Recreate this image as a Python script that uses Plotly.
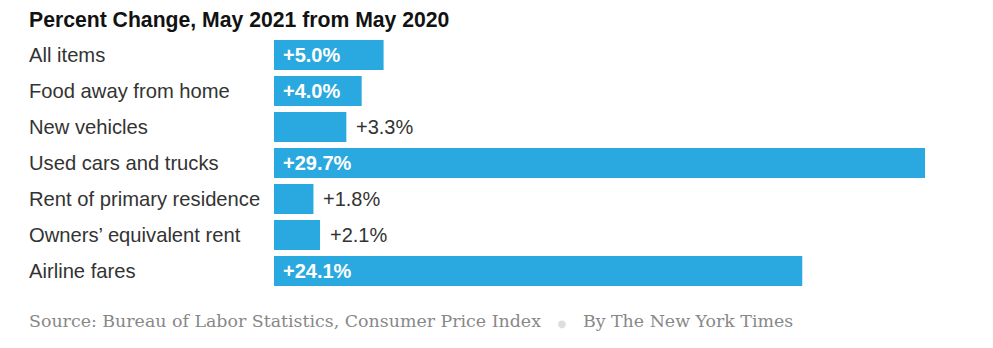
import plotly.graph_objects as go

# Consumer price index, percent change May 2021 vs May 2020
categories = [
    "All items",
    "Food away from home",
    "New vehicles",
    "Used cars and trucks",
    "Rent of primary residence",
    "Owners\u2019 equivalent rent",
    "Airline fares",
]
pct_change = [5.0, 4.0, 3.3, 29.7, 1.8, 2.1, 24.1]

title_text = "Percent Change, May 2021 from May 2020"
source_text = "Source: Bureau of Labor Statistics, Consumer Price Index"
credit_text = "By The New York Times"

BAR_COLOR = "#2aa9e0"
SANS = "Liberation Sans, Arial, sans-serif"
SERIF = "DejaVu Serif, Georgia, serif"

W, H = 993, 348
M_L, M_R, M_T, M_B = 274, 61, 37, 59
PX_PER_UNIT = 21.92
x_max = (W - M_L - M_R) / PX_PER_UNIT

fig = go.Figure(
    go.Bar(
        x=pct_change,
        y=categories,
        orientation="h",
        marker=dict(color=BAR_COLOR, line=dict(width=0)),
        hoverinfo="skip",
    )
)

annotations = []
for cat, v in zip(categories, pct_change):
    label = f"+{v:.1f}%"
    # row label, left-aligned in the left margin
    annotations.append(dict(
        x=0, xref="paper", xanchor="left", xshift=-(M_L - 27),
        y=cat, yref="y", yanchor="middle",
        text=cat, showarrow=False,
        font=dict(family=SANS, size=20.2, color="#333333"),
    ))
    if v >= 4.0:
        annotations.append(dict(
            x=0, xref="x", xanchor="left", xshift=7,
            y=cat, yref="y", yanchor="middle",
            text=f"<b>{label}</b>", showarrow=False,
            font=dict(family=SANS, size=20, color="#ffffff"),
        ))
    else:
        annotations.append(dict(
            x=v, xref="x", xanchor="left", xshift=8,
            y=cat, yref="y", yanchor="middle",
            text=label, showarrow=False,
            font=dict(family=SANS, size=20, color="#333333"),
        ))

# title
annotations.append(dict(
    x=0, xref="paper", xanchor="left", xshift=-(M_L - 27),
    y=1, yref="paper", yanchor="middle", yshift=M_T - 20,
    text=f"<b>{title_text}</b>", showarrow=False,
    font=dict(family=SANS, size=21.2, color="#121212"),
))

# source line
annotations.append(dict(
    x=0, xref="paper", xanchor="left", xshift=-(M_L - 27),
    y=0, yref="paper", yanchor="middle", yshift=-(321 - (H - M_B)),
    text=(f"{source_text}   <span style='color:#dddddd;font-size:10px'>\u25CF</span>   "
          f"{credit_text}"),
    showarrow=False,
    font=dict(family=SERIF, size=17.4, color="#888888"),
))

fig.update_layout(
    width=W, height=H,
    margin=dict(l=M_L, r=M_R, t=M_T, b=M_B, pad=0),
    paper_bgcolor="white", plot_bgcolor="white",
    bargap=1 / 6,
    showlegend=False,
    xaxis=dict(range=[0, x_max], visible=False, fixedrange=True),
    yaxis=dict(
        categoryorder="array", categoryarray=categories,
        autorange="reversed", visible=False, fixedrange=True,
    ),
    annotations=annotations,
)

fig.write_html("out.html", config={"displayModeBar": False})
